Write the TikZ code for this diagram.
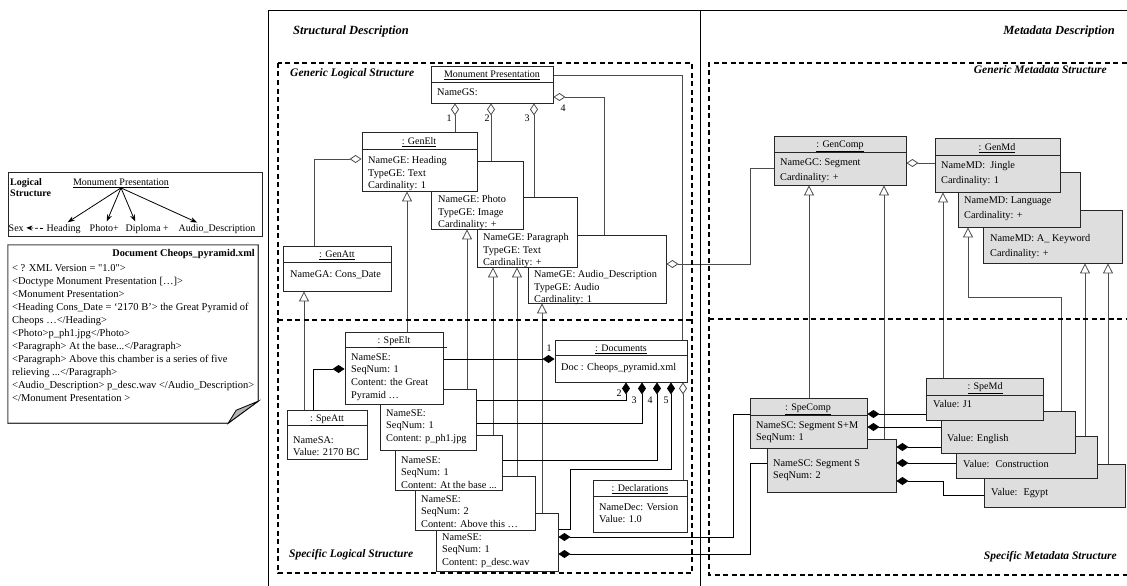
\documentclass[tikz,border=0pt]{standalone}
\usepackage{fontspec}
\setmainfont{Liberation Serif}
\usetikzlibrary{arrows.meta,fit,calc,backgrounds}
\newcommand{\umlbox}[3][box]{\node[#1, fit={#3}] (#2) {};}
\newcommand{\sepline}[2]{\draw[boxline] (#1.west |- 0,#2) -- (#1.east |- 0,#2);}

\tikzset{
	box/.style={draw=black!85, fill=white, inner sep=0pt, line width=0.8pt},
	gbox/.style={box, fill=black!13},
	boxline/.style={draw=black!85, line width=0.8pt},
	txt/.style={anchor=north west, inner sep=0pt, align=left, yshift=3.8pt, font=\fontsize{10.3}{12.7}\selectfont},
	mtxt/.style={txt, font=\fontsize{10.3}{15}\selectfont},
	ttl/.style={anchor=base, inner sep=0pt, yshift=-3.6pt, font=\fontsize{10}{12}\selectfont},
	num/.style={inner sep=0pt, font=\fontsize{10}{12}\selectfont},
	zone/.style={inner sep=0pt, font=\fontsize{11.5}{13}\bfseries\itshape\selectfont},
	lsitem/.style={anchor=base west, inner sep=0.5pt, font=\fontsize{10}{12}\selectfont},
	conn/.style={draw=black!70, line width=0.8pt},
	agg/.style={conn, {Diamond[open,length=12pt,width=8pt]}-},
	comp/.style={conn, draw=black, {Diamond[length=12pt,width=8pt]}-},
	inh/.style={conn, -{Triangle[open,length=10pt,width=10pt]}},
	fan/.style={line width=0.8pt, -{Stealth[length=7pt,width=5pt]}, shorten >=2pt},
	dashbox/.style={line width=1.4pt, dash pattern=on 5pt off 3.5pt},
}

\begin{document}
\begin{tikzpicture}[x=1pt, y=-1pt]
	%%%%% START %%%%%
	\useasboundingbox (0,0) rectangle (1127,586);
	
	% left: logical structure
	\umlbox{ls}{(8,172) (262,236)}
	\node[txt, font=\fontsize{10}{11}\bfseries\selectfont] (lstitle) at (10,182) {Logical\\Structure};
	\node[ttl] (lsroot) at (121,182) {\underline{Monument Presentation}};
	\node[lsitem] (sex) at (8,231) {Sex};
	\node[lsitem] (heading) at (46,231) {Heading};
	\node[lsitem] (photo) at (89,231) {Photo+};
	\node[lsitem] (diploma) at (125,231) {Diploma +};
	\node[lsitem] (audio) at (178,231) {Audio\_Description};
	\draw[fan] (lsroot.south) -- (heading.north -| 66,0);
	\draw[fan] (lsroot.south) -- (photo.north -| 106,0);
	\draw[fan] (lsroot.south) -- (diploma.north -| 136,0);
	\draw[fan] (lsroot.south) -- (audio.north -| 199,0);
	\draw[line width=0.8pt, dash pattern=on 3pt off 2pt, shorten <=3pt, shorten >=2pt, -{Stealth[length=6pt,width=5pt]}] (heading.west) -- (sex.east);
	
	% left: xml document
	\node[inner sep=0pt, fit={(8,245) (258,423)}] (doc) {};
	\draw[draw=black!75, line width=1.1pt] (doc.north west) -- (doc.north east) -- ($(doc.south east)+(0,-22)$) -- ($(doc.south east)+(-30,0)$) -- (doc.south west) -- cycle;
	\draw[fill=black!30, line width=0.8pt] ($(doc.south east)+(-30,0)$) -- ($(doc.south east)+(-22,-13)$) -- ($(doc.south east)+(0,-22)$) -- cycle;
	\node[anchor=base east, inner sep=0pt, font=\fontsize{10.3}{12}\bfseries\selectfont] (doctitle) at (255,256.5) {Document Cheops\_pyramid.xml};
	\node[txt, font=\fontsize{10.5}{13}\selectfont] (doctext) at (12,268) {< ? XML Version = \textquotedbl 1.0\textquotedbl >\\
		<Doctype Monument Presentation […]>\\
		<Monument Presentation>\\
		<Heading Cons\_Date = ‘2170 B’> the Great Pyramid of\\
		Cheops …</Heading>\\
		<Photo>p\_ph1.jpg</Photo>\\
		<Paragraph> At the base...</Paragraph>\\
		<Paragraph> Above this chamber is a series of five\\
		relieving ...</Paragraph>\\
		<Audio\_Description> p\_desc.wav </Audio\_Description>\\
		</Monument Presentation >};
	
	% frames
	\draw[line width=0.8pt] (268,590) -- (268,10) -- (1135,10);
	\draw[line width=0.8pt] (700,10) -- (700,590);
	\node[zone, font=\fontsize{12.5}{14}\bfseries\itshape\selectfont, anchor=west] (sdesc) at (293,31) {Structural Description};
	\node[zone, font=\fontsize{12.5}{14}\bfseries\itshape\selectfont, anchor=east] (mdesc) at (1115,31) {Metadata Description};
	\draw[dashbox] (278,63) rectangle (692,573);
	\draw[dashbox] (278,320) -- (692,320);
	\draw[dashbox] (1135,63) -- (709,63) -- (709,575) -- (1135,575);
	\draw[dashbox] (709,319) -- (1135,319);
	\node[zone, anchor=west] (glog) at (290,74) {Generic Logical Structure};
	\node[zone, anchor=west] (slog) at (289,555) {Specific Logical Structure};
	\node[zone, anchor=east] (gmeta) at (1107,70) {Generic Metadata Structure};
	\node[zone, anchor=east] (smeta) at (1117,557) {Specific Metadata Structure};
	
	% generic logical structure
	\umlbox{gaud}{(528,235) (666,303)}
	\node[txt] at (534,274) {NameGE: Audio\_Description\\TypeGE: Audio\\Cardinality: 1};
	\umlbox{gpar}{(477,197) (577,267)}
	\node[txt] at (483,237) {NameGE: Paragraph\\TypeGE: Text\\Cardinality: +};
	\umlbox{gpho}{(431,161) (523,229)}
	\node[txt] at (438,199) {NameGE: Photo\\TypeGE: Image\\Cardinality: +};
	\umlbox{genelt}{(362,132) (477,191)}
	\sepline{genelt}{149}
	\node[ttl] at (419,141) {\underline{: GenElt}};
	\node[txt] at (368,160) {NameGE: Heading\\TypeGE: Text\\Cardinality: 1};
	\umlbox{genatt}{(283,246) (391,291)}
	\sepline{genatt}{262}
	\node[ttl] at (337,254) {\underline{: GenAtt}};
	\node[txt] at (290,274) {NameGA: Cons\_Date};
	\umlbox{mp}{(431,66) (553,103)}
	\sepline{mp}{82}
	\node[ttl] at (492,74) {\underline{Monument Presentation}};
	\node[txt] at (437,92) {NameGS:};
	
	% specific logical structure
	\umlbox{docs}{(555,340) (687,382)}
	\sepline{docs}{355}
	\node[ttl] at (621,348) {\underline{: Documents}};
	\node[txt] at (561,367) {Doc : Cheops\_pyramid.xml};
	\umlbox{decl}{(593,480) (687,532)}
	\sepline{decl}{496}
	\node[ttl] at (640,488) {\underline{: Declarations}};
	\node[txt] at (599,507) {NameDec: Version\\Value: 1.0};
	\umlbox{speatt}{(287,410) (367,459)}
	\sepline{speatt}{425}
	\node[ttl] at (327,418) {\underline{: SpeAtt}};
	\node[txt] at (293,440) {NameSA:\\Value: 2170 BC};
	\umlbox{seE}{(436,513) (558,571)}
	\node[txt] at (442,537) {NameSE:\\SeqNum: 1\\Content: p\_desc.wav};
	\umlbox{seD}{(415,476) (535,530)}
	\node[txt] at (421,499) {NameSE:\\SeqNum: 2\\Content: Above this …};
	\umlbox{seC}{(395,435) (502,490)}
	\node[txt] at (401,460) {NameSE:\\SeqNum: 1\\Content: At the base ...};
	\umlbox{seB}{(380,389) (476,450)}
	\node[txt] at (386,413) {NameSE:\\SeqNum: 1\\Content: p\_ph1.jpg};
	\umlbox{seA}{(345,332) (443,404)}
	\draw[boxline] (seA.west |- 0,347) -- (447,347);
	\node[ttl] at (394,340) {\underline{: SpeElt}};
	\node[txt] at (351,357) {NameSE:\\SeqNum: 1\\Content: the Great\\Pyramid …};
	
	% generic metadata structure
	\umlbox[gbox]{gcomp}{(774,136) (906,185)}
	\sepline{gcomp}{152}
	\node[ttl] at (840,144) {\underline{: GenComp}};
	\node[mtxt] at (780,162) {NameGC: Segment\\Cardinality: +};
	\umlbox[gbox]{gmdK}{(983,210) (1122,263)}
	\node[mtxt] at (990,238) {NameMD: A\_ Keyword\\Cardinality: +};
	\umlbox[gbox]{gmdL}{(958,172) (1080,227)}
	\node[mtxt] at (964,200) {NameMD: Language\\Cardinality: +};
	\umlbox[gbox]{gmd}{(935,138) (1060,192)}
	\sepline{gmd}{155}
	\node[ttl] at (997,147) {\underline{: GenMd}};
	\node[mtxt] at (941,165) {NameMD:~ Jingle\\Cardinality: 1};
	
	% specific metadata structure
	\umlbox[gbox]{scB}{(767,439) (896,492)}
	\node[txt] at (773,463) {NameSC: Segment S\\SeqNum: 2};
	\umlbox[gbox]{scA}{(750,398) (867,448)}
	\sepline{scA}{415}
	\node[ttl] at (808,407) {\underline{: SpeComp}};
	\node[txt] at (756,425) {NameSC: Segment S+M\\SeqNum: 1};
	\umlbox[gbox]{smE}{(984,464) (1125,507)}
	\node[txt] at (991,492) {Value:~ Egypt};
	\umlbox[gbox]{smC}{(956,436) (1097,478)}
	\node[txt] at (963,464) {Value:~ Construction};
	\umlbox[gbox]{smEn}{(941,411) (1075,453)}
	\node[txt] at (947,438) {Value: English};
	\umlbox[gbox]{smd}{(926,378) (1043,420)}
	\sepline{smd}{395}
	\node[ttl] at (985,386) {\underline{: SpeMd}};
	\node[txt] at (933,404) {Value: J1};
	
	% connectors
	\begin{scope}[on background layer]
		\draw[agg] (455,0 |- mp.south) -- (455,0 |- genelt.north);
		\draw[agg] (491,0 |- mp.south) -- (491,0 |- gpho.north);
		\draw[agg] (534,0 |- mp.south) -- (534,0 |- gpar.north);
		\draw[agg] (mp.east |- 0,97) -| (604,0 |- gaud.north);
		\draw[conn] (mp.east |- 0,75) -| (682,0 |- docs.north);
		\draw[agg] (genelt.west |- 0,159) -| (314,0 |- genatt.north);
		\draw[agg] (gaud.east |- 0,264) -- (750,264) |- (gcomp.west |- 0,168);
		
		\draw[inh] (304,0 |- speatt.north) -- (304,0 |- genatt.south);
		\draw[inh] (407,0 |- seA.north) -- (407,0 |- genelt.south);
		\draw[inh] (467,0 |- seB.north) -- (467,0 |- gpho.south);
		\draw[inh] (493,0 |- seC.north) -- (493,0 |- gpar.south);
		\draw[inh] (517,0 |- seD.north) -- (517,0 |- gpar.south);
		\draw[inh] (542,0 |- seE.north) -- (542,0 |- gaud.south);
		
		\draw[comp] (docs.west |- 0,359) -- (seA.east |- 0,359);
		\draw[comp] (626,0 |- docs.south) |- (seB.east |- 0,400);
		\draw[comp] (642,0 |- docs.south) |- (seB.east |- 0,423);
		\draw[comp] (657,0 |- docs.south) |- (seC.east |- 0,460);
		\draw[comp] (671,0 |- docs.south) |- (570,469) |- (seE.east |- 0,529);
		\draw[agg] (683,0 |- docs.south) -- (683,0 |- decl.north);
		\draw[comp] (seA.west |- 0,369) -| (313,0 |- speatt.north);
		
		\draw[comp] (seE.east |- 0,537) -| (733,414) -- (scA.west |- 0,414);
		\draw[comp] (seE.east |- 0,554) -| (750,463) -- (scB.west |- 0,463);
		
		\draw[agg] (gcomp.east |- 0,163) -- (gmd.west |- 0,163);
		\draw[inh] (809,0 |- scA.north) -- (809,0 |- gcomp.south);
		\draw[inh] (884,0 |- scB.north) -- (884,0 |- gcomp.south);
		\draw[inh] (943,0 |- smd.north) -- (943,0 |- gmd.south);
		\draw[inh] (1061,0 |- smEn.north) |- (968,297) -- (968,0 |- gmdL.south);
		\draw[inh] (1085,0 |- smC.north) -- (1085,0 |- gmdK.south);
		\draw[inh] (1108,0 |- smE.north) -- (1108,0 |- gmdK.south);
		\draw[comp] (scA.east |- 0,414) -- (smd.west |- 0,414);
		\draw[comp] (scA.east |- 0,427) -- (smEn.west |- 0,427);
		\draw[comp] (scB.east |- 0,447) -- (smC.west |- 0,447);
		\draw[comp] (scB.east |- 0,463) -- (smC.west |- 0,463);
		\draw[comp] (scB.east |- 0,481) -- (943,481) |- (smE.west |- 0,495);
	\end{scope}
	
	% multiplicities
	\node[num] (m1) at (449,118) {1};
	\node[num] (m2) at (487,118) {2};
	\node[num] (m3) at (527,118) {3};
	\node[num] (m4) at (563,108) {4};
	\node[num] (d1) at (549,348) {1};
	\node[num] (d2) at (619,393) {2};
	\node[num] (d3) at (634,400) {3};
	\node[num] (d4) at (650,400) {4};
	\node[num] (d5) at (666,400) {5};
	
	%%%%% END %%%%%
\end{tikzpicture}
\end{document}
